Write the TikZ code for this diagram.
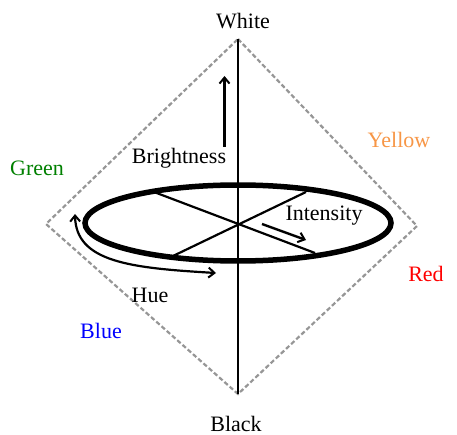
\documentclass[tikz,border=0pt]{standalone}
\usepackage{fontspec}
\setmainfont{Liberation Serif}
\usetikzlibrary{arrows.meta}
\definecolor{dgreen}{RGB}{0,128,0}
\definecolor{orangey}{RGB}{247,150,70}
\definecolor{diagray}{RGB}{150,150,150}
\begin{document}
\begin{tikzpicture}[x=1pt,y=-1pt,
  lbl/.style={font=\fontsize{22}{26}\selectfont, inner sep=0pt},
  barb/.style={-{Straight Barb[length=6pt,width=10pt,line width=2pt]}, line width=2.4pt},
  dbarb/.style={{Straight Barb[length=6pt,width=10pt,line width=2pt]}-{Straight Barb[length=6pt,width=10pt,line width=2pt]}, line width=2.2pt}]
\useasboundingbox (0,0) rectangle (457,435);
% diamond
\coordinate (T) at (238,39);
\coordinate (L) at (46,224);
\coordinate (R) at (417,226);
\coordinate (B) at (238,394);
\draw[diagray, line width=2.2pt, dash pattern=on 4.5pt off 2.5pt] (T) -- (R) -- (B) -- (L) -- cycle;
% chords
\coordinate (c1a) at (154,192);
\coordinate (c1b) at (315,253);
\coordinate (c2a) at (306,192);
\coordinate (c2b) at (173,256);
\draw[line width=2.2pt] (c1a) -- (c1b);
\draw[line width=2.2pt] (c2a) -- (c2b);
% ellipse
\coordinate (E) at (238,223);
\draw[line width=5.5pt] (E) ellipse [x radius=153, y radius=38];
% axis
\draw[line width=2.8pt] (T) -- (B);
% labels
\node[lbl] (white) at (243,21) {White};
\node[lbl] (black) at (236,424) {Black};
\node[lbl, text=orangey] (yellow) at (399,140) {Yellow};
\node[lbl, text=dgreen] (green) at (37,168) {Green};
\node[lbl, text=red] (red) at (426,274) {Red};
\node[lbl, text=blue] (blue) at (101,331) {Blue};
\node[lbl] (bright) at (179,158) {Brightness};
\node[lbl] (inten) at (324,216) {Intensity};
\node[lbl] (hue) at (150,295) {Hue};
% arrows
\coordinate (b0) at (224.5,147);
\coordinate (b1) at (224.5,76);
\draw[barb] (b0) -- (b1);
\coordinate (i0) at (262,224);
\coordinate (i1) at (306,240);
\draw[barb] (i0) -- (i1);
\coordinate (h0) at (75,214);
\coordinate (h1) at (216,273);
\draw[dbarb] (h0) .. controls (76,262) and (130,268) .. (h1);
\end{tikzpicture}
\end{document}
